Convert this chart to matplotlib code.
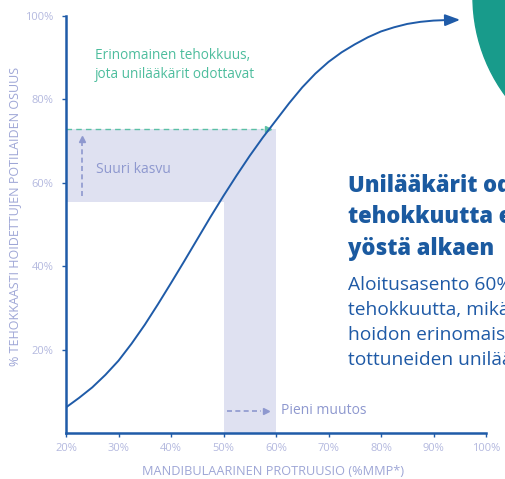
import matplotlib.pyplot as plt
from matplotlib.patches import Ellipse

plt.rcParams['font.family'] = ['Open Sans', 'DejaVu Sans']

# Käyrä: tehokkaasti hoidettujen osuus vs. protruusio (luettu kuvasta)
protruusio = [20, 22.5, 25, 27.5, 30, 32.5, 35, 37.5, 40, 42.5, 45, 47.5, 50, 52.5, 55, 57.5,
              60, 62.5, 65, 67.5, 70, 72.5, 75, 77.5, 80, 82.5, 85, 87.5, 90, 92]
tehokkuus = [6.2, 8.5, 11.0, 14.0, 17.4, 21.5, 26.0, 30.9, 36.0, 41.2, 46.5, 51.8, 56.9, 61.8, 66.5, 70.9,
             75.0, 79.1, 82.9, 86.2, 89.0, 91.3, 93.2, 94.9, 96.3, 97.3, 98.1, 98.6, 98.9, 99.0]
nuolen_karki = (95.6, 99.1)

# Korostetut alueet
alku_pos, loppu_pos = 50, 60
alku_teho, loppu_teho = 55.5, 73

x_ticks = [20, 30, 40, 50, 60, 70, 80, 90, 100]
y_ticks = [20, 40, 60, 80, 100]

sininen = '#1f5ba8'
vaalea = '#dfe1f1'
vihrea = '#4dbd9d'
violetti = '#8e98cf'
harmaa = '#b4b9df'

fig = plt.figure(figsize=(5.05, 4.79), dpi=100)
ax = fig.add_axes([66 / 505, 1 - 433.3 / 479, 420 / 505, 417.3 / 479])

# taustaympyrä oikeassa yläkulmassa
fig.add_artist(Ellipse((639 / 505, 1 + 3 / 479), 2 * 166 / 505, 2 * 166 / 479,
                       transform=fig.transFigure, color='#189b8b', zorder=0))

# vaaleat alueet
ax.fill_between([x_ticks[0], loppu_pos], alku_teho, loppu_teho, color=vaalea, lw=0, zorder=1)
ax.fill_between([alku_pos, loppu_pos], 0, loppu_teho, color=vaalea, lw=0, zorder=1)

# vihreä katkoviiva
ax.plot([x_ticks[0], 57.6], [loppu_teho, loppu_teho], color='#5cc0a5', lw=1, ls=(0, (4, 3)), zorder=2)
ax.plot([58.4], [loppu_teho], marker='>', color='#5cc0a5', ms=5, zorder=2)

# Suuri kasvu -nuoli
ax.plot([23, 23], [56.8, 69.8], color=violetti, lw=1.2, ls=(0, (3, 2)), zorder=2)
ax.plot([23], [70.6], marker='^', color=violetti, ms=4, zorder=2)
ax.text(25.8, 63.2, 'Suuri kasvu', color=violetti, fontsize=10, va='center')

# Pieni muutos -nuoli
ax.plot([50.6, 57.2], [5.4, 5.4], color=violetti, lw=1.2, ls=(0, (3, 2)), zorder=2)
ax.plot([58.0], [5.4], marker='>', color=violetti, ms=4, zorder=2)
ax.text(61, 5.4, 'Pieni muutos', color=violetti, fontsize=10, va='center')

ax.text(25.5, 88.2, 'Erinomainen tehokkuus,\njota unilääkärit odottavat', color=vihrea,
        fontsize=9.8, va='center', linespacing=1.38)

# käyrä ja nuolenkärki
ax.plot(protruusio, tehokkuus, color=sininen, lw=1.4, zorder=3, solid_joinstyle='round')
ax.annotate('', xy=nuolen_karki, xytext=(protruusio[-1], tehokkuus[-1]),
            arrowprops=dict(arrowstyle='-|>,head_length=0.9,head_width=0.35', color=sininen, lw=1.4))

ax.set_xlim(20, 100)
ax.set_ylim(0, 100)
ax.set_xticks(x_ticks)
ax.set_xticklabels([f'{v}%' for v in x_ticks])
ax.set_yticks(y_ticks)
ax.set_yticklabels([f'{v}%' for v in y_ticks])
for s in ['top', 'right']:
    ax.spines[s].set_visible(False)
for s in ['left', 'bottom']:
    ax.spines[s].set_color(sininen)
    ax.spines[s].set_linewidth(1.8)
ax.tick_params(axis='both', colors=sininen, labelcolor=harmaa, labelsize=8, length=3, width=1)
ax.tick_params(axis='y', pad=6)
ax.tick_params(axis='x', pad=4)
ax.set_facecolor('none')

ax.set_xlabel('MANDIBULAARINEN PROTRUUSIO (%MMP*)', color='#9ea6d6', fontsize=9.2, labelpad=7)
ax.xaxis.set_label_coords(0.492, -0.075)
ax.set_ylabel('% TEHOKKAASTI HOIDETTUJEN POTILAIDEN OSUUS', color='#9ea6d6', fontsize=9)
ax.yaxis.set_label_coords(-45 / 420, 0.52)

# oikean puolen teksti (rajautuu kuvan reunaan)
otsikko = ['Unilääkärit odottavat', 'tehokkuutta ensimmäisestä', 'yöstä alkaen']
for i, rivi in enumerate(otsikko):
    fig.text(348 / 505, 1 - (191.7 + 31.7 * i) / 479, rivi, color='#1b5aa0',
             fontsize=15.8, fontweight='heavy', va='baseline')
leipa = ['Aloitusasento 60%:ssa antaa', 'tehokkuutta, mikä vastaa', 'hoidon erinomaisiin tuloksiin',
         'tottuneiden unilääkäreiden odotuksia']
for i, rivi in enumerate(leipa):
    fig.text(348 / 505, 1 - (290 + 25 * i) / 479, rivi, color='#1f5aa6',
             fontsize=13.8, va='baseline')

fig.savefig('out.png', dpi=100)
